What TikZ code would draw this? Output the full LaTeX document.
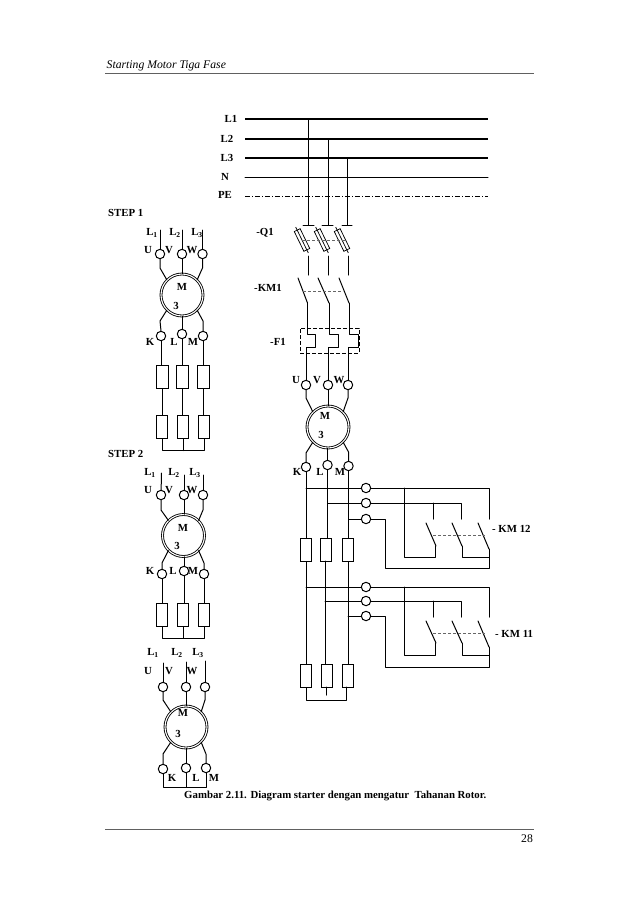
\documentclass[tikz,border=0pt]{standalone}
\usepackage{fontspec}
\usetikzlibrary{calc}
\setmainfont{Liberation Serif}
\tikzset{
  wire/.style={line width=1pt,line cap=round,line join=round},
  bus/.style={line width=1.9pt},
  term/.style={circle,draw,line width=1pt,minimum size=9.4pt,inner sep=0pt},
  res/.style={rectangle,draw,line width=1pt,minimum width=11.5pt,minimum height=23pt,inner sep=0pt},
  mot/.style={circle,draw,double,double distance=1.1pt,line width=.85pt,minimum size=42pt,inner sep=0pt},
  fuse/.style={rectangle,draw,line width=.75pt,minimum width=6.5pt,minimum height=22pt,inner sep=0pt,rotate=26},
  lab/.style={inner sep=0pt,font=\bfseries\fontsize{10.8}{12}\selectfont},
  link/.style={line width=.6pt,dash pattern=on 3pt off 2pt,gray!80!black},
  rule/.style={line width=1pt,gray!75!black}
}
\begin{document}
\begin{tikzpicture}[x=1pt,y=-1pt]
\useasboundingbox (0,0) rectangle (638,903);
% page furniture
\coordinate (ha) at (105,73); \coordinate (hb) at (534,73);
\coordinate (fa) at (105,829); \coordinate (fb) at (534,829);
\draw[rule] (ha) -- (hb);
\draw[rule] (fa) -- (fb);
\node[anchor=west,inner sep=0pt,font=\itshape\fontsize{11.7}{13}\selectfont] (head) at (106.5,66) {Starting Motor Tiga Fase};
\node[inner sep=0pt,font=\fontsize{11.7}{13}\selectfont] (pageno) at (527,839) {28};
\node[anchor=west,lab] (cap) at (184,796) {Gambar 2.11. Diagram starter dengan mengatur\ \ Tahanan Rotor.};
% buses
\foreach \n/\t/\y/\xl in {1/L1/119/231,2/L2/139/227,3/L3/158/227}{
  \coordinate (b\n a) at (245,\y); \coordinate (b\n b) at (488,\y);
  \draw[bus] (b\n a) -- (b\n b);
  \node[lab] (bl\n) at (\xl,\y) {\t};
}
\coordinate (b4a) at (245,177); \coordinate (b4b) at (488,177);
\coordinate (b5a) at (245,196); \coordinate (b5b) at (488,196);
\draw[wire] (b4a) -- (b4b);
\draw[line width=1pt,dash pattern=on 5pt off 2pt on 1pt off 2pt] (b5a) -- (b5b);
\node[lab] (bl4) at (225,177) {N};
\node[lab] (bl5) at (225,195) {PE};
% Q1
\node[lab] (q1) at (265,233) {-Q1};
\foreach \n/\x/\yt/\ta/\tb/\fx in {1/308/119/303/314/302,2/328/139/322/333/322,3/347/158/342/352/342}{
  \coordinate (tap\n) at (\x,\yt);
  \coordinate (ta\n) at (\ta,225); \coordinate (tb\n) at (\tb,225);
  \draw[wire] (tap\n) -- (\x,225);
  \draw[wire] (ta\n) -- (tb\n);
  \node[fuse] (f\n) at (\fx,240) {};
  \draw[line width=.75pt] ($(f\n.north)!-3pt!(f\n.south)$) -- ($(f\n.south)!-3pt!(f\n.north)$);
}
\coordinate (qd1) at (302,240); \coordinate (qd2) at (345,240);
\draw[link] (qd1) -- (qd2);
% KM1 main contacts
\node[lab] (km1) at (268,288) {-KM1};
\foreach \n/\x/\xa/\xb in {1/308/298/307.5,2/328/318/329,3/348/339/349}{
  \coordinate (qo\n) at (\x,256); \coordinate (qe\n) at (\x,275);
  \draw[wire] (qo\n) -- (qe\n);
  \coordinate (ca\n) at (\xa,278); \coordinate (cb\n) at (\xb,303);
  \draw[wire] (ca\n) -- (cb\n);
}
\coordinate (kd1) at (303,291); \coordinate (kd2) at (343,291);
\draw[link] (kd1) -- (kd2);
% F1
\node[lab] (f1) at (278,342) {-F1};
\node[draw,line width=1pt,dash pattern=on 4pt off 2pt,minimum width=59pt,minimum height=25pt,inner sep=0pt] (f1box) at (329.5,340.5) {};
% main motor
\node[term] (mu) at (306,385) {}; \node[term] (mv) at (328,385) {}; \node[term] (mw) at (348,385) {};
\node[mot] (mm) at (328,427) {};
\node[lab] at (325,416) {M};
\node[lab] at (321,435) {3};
\node[lab] at (296,380) {U}; \node[lab] at (317,380) {V}; \node[lab] at (339,380) {W};
\draw[wire] (cb1) -- (307.5,334) -- (315,334) -- (315,347) -- (306,347) -- (mu);
\draw[wire] (cb2) -- (329,334) -- (338,334) -- (338,347) -- (328,347) -- (mv);
\draw[wire] (cb3) -- (349,334) -- (358,334) -- (358,347) -- (348,347) -- (mw);
\draw[wire] (mu.south) -- (306,398) -- (mm.135);
\draw[wire] (mv.south) -- (mm.north);
\draw[wire] (mw.south) -- (348,398) -- (mm.45);
\node[term] (mk) at (306,467) {}; \node[term] (ml) at (327.5,465) {}; \node[term] (mn) at (348.5,466) {};
\node[lab] at (297,472) {K}; \node[lab] at (320,472) {L}; \node[lab] at (340,472) {M};
\draw[wire] (mm.225) -- (306,453) -- (mk.north);
\draw[wire] (ml.north |- mm.south) -- (ml.north);
\draw[wire] (mm.315) -- (348.5,452) -- (mn.north);
% resistors main
\node[res] (r1) at (306,549.5) {}; \node[res] (r2) at (326,549.5) {}; \node[res] (r3) at (348,549.5) {};
\node[res] (s1) at (306,675.5) {}; \node[res] (s2) at (327,675.5) {}; \node[res] (s3) at (348,675.5) {};
\draw[wire] (mk.south) -- (r1.north);
\draw[wire] (ml.south) -- (ml.south |- r2.north);
\draw[wire] (mn.south) -- (mn.south |- r3.north);
\draw[wire] (r1.south) -- (s1.north);
\coordinate (ll) at (325,561);
\draw[wire] (ll) -- (ll |- s2.north);
\draw[wire] (r3.south) -- (s3.north);
\coordinate (st) at (326.5,687);
\draw[wire] (s1.south) -- (306,700) -- (346.5,700) -- (346.5,687);
\draw[wire] (st) -- (326.5,695);
% KM12 and KM11
\foreach \p/\yi/\yii/\yiii in {u/488/503/519,v/587/601/616}{
  \node[term] (\p1) at (366,\yi) {};
  \node[term] (\p2) at (366,\yii) {};
  \node[term] (\p3) at (366,\yiii) {};
}
\draw[wire] (mk.south |- u1.west) -- (u1.west);
\draw[wire] (ml.south |- u2.west) -- (u2.west);
\draw[wire] (mn.south |- u3.west) -- (u3.west);
\draw[wire] (r1.south |- v1.west) -- (v1.west);
\draw[wire] (ll |- v2.west) -- (v2.west);
\draw[wire] (s3.north |- v3.west) -- (v3.west);
\foreach \p/\a/\b/\c/\ct/\cb/\kb/\kc/\kd/\ke/\lc in {u/488/503/519/523/546/557/568/519/549/535,v/587/601/616/621/643/655/667/617/647/633}{
  \coordinate (\p e) at (489,\kd);
  \draw[wire] (\p1.east) -- (\p e |- \p1.east) -- (\p e);
  \draw[wire] (404,\a) -- (404,\kb) -- (435.5,\kb) -- (435.5,\cb);
  \draw[wire] (\p2.east) -- (461,\b) -- (461,\kd);
  \draw[wire] (433,\b) -- (433,\kd);
  \draw[wire] (\p3.east) -- (385,\c) -- (385,\kc) -- (489,\kc) -- (489,\ke);
  \draw[wire] (462,\cb) -- (462,\kb) -- (489,\kb);
  \draw[wire] (426,\ct) -- (436,\cb);
  \draw[wire] (452,\ct) -- (462,\cb);
  \draw[wire] (478,\ct) -- (489,\ke);
  \draw[link] (433,\lc) -- (485,\lc);
}
\node[lab,anchor=west] (k12) at (492,529) {- KM 12};
\node[lab,anchor=west] (k11) at (495,634) {- KM 11};
% STEP 1
\node[lab,anchor=west] (st1) at (108,213) {STEP 1};
\node[lab] at (152,233) {L\textsubscript{1}}; \node[lab] at (175,233) {L\textsubscript{2}}; \node[lab] at (197,233) {L\textsubscript{3}};
\node[lab] at (148,250) {U}; \node[lab] at (169,250) {V}; \node[lab] at (192,250) {W};
\node[term] (au) at (160,254) {}; \node[term] (av) at (182,254) {}; \node[term] (aw) at (202.5,254) {};
\node[mot] (am) at (182,295) {};
\node[lab] at (182,287) {M}; \node[lab] at (176,306) {3};
\draw[wire] (160,230) -- (au); \draw[wire] (182,230) -- (av); \draw[wire] (202.5,230) -- (aw);
\draw[wire] (au.south) -- (160,268) -- (am.135);
\draw[wire] (av.south) -- (am.north);
\draw[wire] (aw.south) -- (202.5,268) -- (am.45);
\node[term] (ak) at (161,336) {}; \node[term] (al) at (182,334) {}; \node[term] (an) at (203,336) {};
\node[lab] at (150,342) {K}; \node[lab] at (174,342) {L}; \node[lab] at (193,342) {M};
\draw[wire] (am.225) -- (160,321) -- (ak.north);
\draw[wire] (am.south) -- (al.north);
\draw[wire] (am.315) -- (203,321) -- (an.north);
\node[res] (ar1) at (162.5,377) {}; \node[res] (ar2) at (182.5,377) {}; \node[res] (ar3) at (203.5,377) {};
\node[res] (as1) at (162,427) {}; \node[res] (as2) at (183,427) {}; \node[res] (as3) at (204,427) {};
\draw[wire] (ak.south) -- (ak.south |- ar1.north); \draw[wire] (al.south) -- (al.south |- ar2.north); \draw[wire] (an.south) -- (an.south |- ar3.north);
\draw[wire] (ar1.south) -- (ar1.south |- as1.north); \draw[wire] (ar2.south) -- (ar2.south |- as2.north); \draw[wire] (ar3.south) -- (ar3.south |- as3.north);
\draw[wire] (as1.south) -- (162,450.5) -- (204,450.5) -- (as3.south);
\draw[wire] (as2.south) -- (183,450.5);
% STEP 2
\node[lab,anchor=west] (st2) at (108,454) {STEP 2};
\node[lab] at (150,473) {L\textsubscript{1}}; \node[lab] at (174,473) {L\textsubscript{2}}; \node[lab] at (195,473) {L\textsubscript{3}};
\node[lab] at (148,490) {U}; \node[lab] at (169,490) {V}; \node[lab] at (192,490) {W};
\node[term] (bu) at (161,495) {}; \node[term] (bv) at (184,495) {}; \node[term] (bw) at (203,495) {};
\node[mot] (bm) at (183.5,535.5) {};
\node[lab] at (183,528) {M}; \node[lab] at (177,546) {3};
\draw[wire] (161.5,473) -- (bu); \draw[wire] (184,475) -- (bv); \draw[wire] (203,475) -- (bw);
\draw[wire] (bu.south) -- (161,510) -- (bm.135);
\draw[wire] (bv.south) -- (bv.south |- bm.north);
\draw[wire] (bw.south) -- (203,510) -- (bm.45);
\node[term] (bk) at (162,574) {}; \node[term] (bl) at (184,571) {}; \node[term] (bn) at (204,574) {};
\node[lab] at (150,571) {K}; \node[lab] at (173,571) {L}; \node[lab] at (193,571) {M};
\draw[wire] (bm.225) -- (162,563) -- (bk.north);
\draw[wire] (bl.north |- bm.south) -- (bl.north);
\draw[wire] (bm.315) -- (204,563) -- (bn.north);
\node[res] (br1) at (162,614.5) {}; \node[res] (br2) at (183,614.5) {}; \node[res] (br3) at (204,614.5) {};
\draw[wire] (bk.south) -- (br1.north); \draw[wire] (bl.south) -- (bl.south |- br2.north); \draw[wire] (bn.south) -- (br3.north);
\draw[wire] (br1.south) -- (162,638) -- (204,638) -- (br3.south);
\draw[wire] (br2.south) -- (183,638);
% third motor
\node[lab] at (153,653) {L\textsubscript{1}}; \node[lab] at (177,653) {L\textsubscript{2}}; \node[lab] at (198,653) {L\textsubscript{3}};
\node[lab] at (148,671) {U}; \node[lab] at (169,671) {V}; \node[lab] at (192,671) {W};
\node[term] (cu) at (163,687) {}; \node[term] (cv) at (186,687) {}; \node[term] (cw) at (205,687) {};
\node[mot] (cm) at (186,727) {};
\node[lab] at (183,713) {M}; \node[lab] at (178,734) {3};
\draw[wire] (163,663) -- (cu); \draw[wire] (186,662) -- (cv); \draw[wire] (205,661) -- (cw);
\draw[wire] (cu.south) -- (163,700) -- (cm.135);
\draw[wire] (cv.south) -- (cm.north);
\draw[wire] (cw.south) -- (205,700) -- (cm.45);
\node[term] (ck) at (163,769) {}; \node[term] (cl) at (186,768) {}; \node[term] (cn) at (206,768) {};
\node[lab] at (172,778) {K}; \node[lab] at (196,778) {L}; \node[lab] at (214,778) {M};
\draw[wire] (cm.225) -- (163,754) -- (ck.north);
\draw[wire] (cm.south) -- (cl.north);
\draw[wire] (cm.315) -- (206,754) -- (cn.north);
\draw[wire] (ck.south) -- (163,787) -- (206,787) -- (cn.south);
\draw[wire] (cl.south) -- (186,787);
\end{tikzpicture}
\end{document}
